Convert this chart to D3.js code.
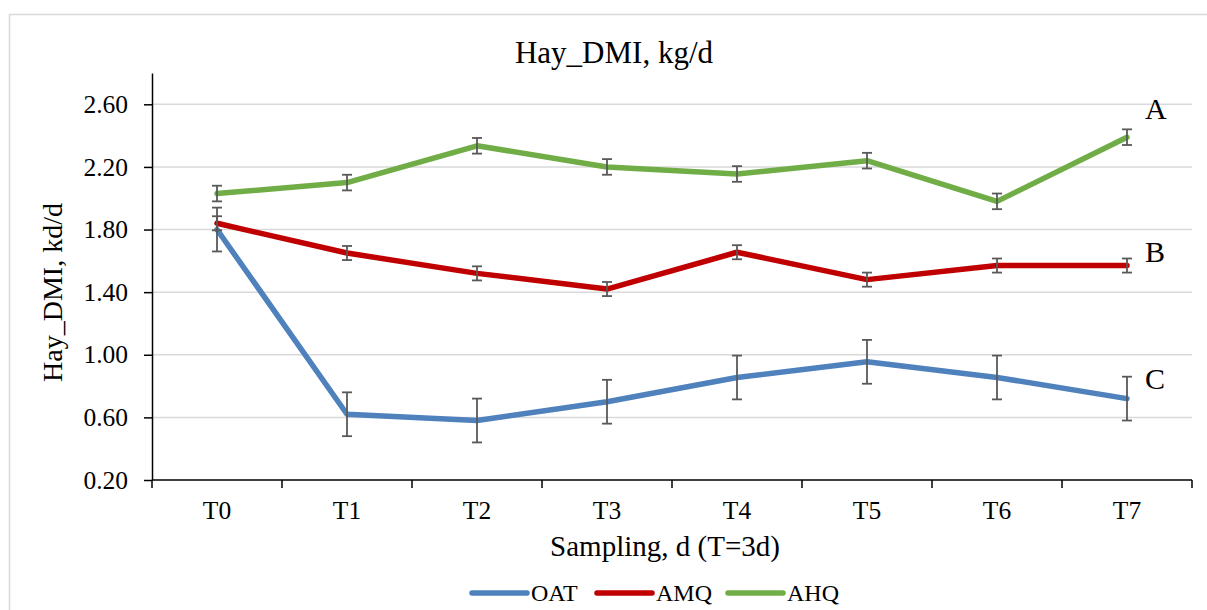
<!DOCTYPE html>
<html>
<head>
<meta charset="utf-8">
<script src="https://cdn.jsdelivr.net/npm/d3@7"></script>
<style>
  body { margin: 0; background: #fff; }
  svg { font-family: "Liberation Serif", "Times New Roman", serif; }
</style>
</head>
<body>
<div id="chart"></div>
<script>
// data
const categories = ["T0", "T1", "T2", "T3", "T4", "T5", "T6", "T7"];
const oat = [1.80, 0.62, 0.58, 0.70, 0.855, 0.955, 0.855, 0.72];
const oatErr = [0.14, 0.14, 0.14, 0.14, 0.14, 0.14, 0.14, 0.14];
const amq = [1.84, 1.65, 1.52, 1.42, 1.655, 1.48, 1.57, 1.57];
const amqErr = [0.045, 0.045, 0.045, 0.045, 0.045, 0.045, 0.045, 0.045];
const ahq = [2.03, 2.10, 2.335, 2.20, 2.155, 2.24, 1.98, 2.39];
const ahqErr = [0.05, 0.05, 0.05, 0.05, 0.05, 0.05, 0.05, 0.05];
const yTicks = [0.20, 0.60, 1.00, 1.40, 1.80, 2.20, 2.60];
const groupLetters = [["A", 2.575], ["B", 1.66], ["C", 0.85]];

const series = [
  { name: "OAT", values: oat, err: oatErr, color: "#4f81bd" },
  { name: "AMQ", values: amq, err: amqErr, color: "#c00000" },
  { name: "AHQ", values: ahq, err: ahqErr, color: "#70ad47" }
];

const width = 1207, height = 610;
const margin = { top: 73, right: 15, bottom: 130, left: 152 };

const svg = d3.select("#chart").append("svg")
    .attr("width", width)
    .attr("height", height);

// outer chart border (right/bottom run off the picture)
svg.append("rect")
    .attr("x", 9.5).attr("y", 14.5)
    .attr("width", 1210).attr("height", 620)
    .attr("fill", "none")
    .attr("stroke", "#d9d9d9")
    .attr("stroke-width", 1.5);

const x = d3.scaleBand()
    .domain(categories)
    .range([margin.left, width - margin.right]);

const y = d3.scaleLinear()
    .domain([0.2, 2.8])
    .range([height - margin.bottom, margin.top]);

// gridlines
svg.append("g")
  .selectAll("line")
  .data(yTicks.slice(1))
  .join("line")
    .attr("x1", margin.left)
    .attr("x2", width - margin.right)
    .attr("y1", d => y(d))
    .attr("y2", d => y(d))
    .attr("stroke", "#d9d9d9")
    .attr("stroke-width", 1.5);

// y axis
const yAxis = svg.append("g")
    .attr("transform", `translate(${margin.left},0)`)
    .call(d3.axisLeft(y).tickValues(yTicks).tickFormat(d3.format(".2f")).tickSize(8).tickPadding(16).tickSizeOuter(0));
yAxis.select(".domain").attr("stroke", "#000").attr("stroke-width", 1.5);
yAxis.selectAll(".tick line").attr("stroke", "#000").attr("stroke-width", 1.5);
yAxis.selectAll("text")
    .attr("font-size", 25.5)
    .attr("fill", "#000")
    .attr("font-family", "Liberation Serif, serif");

// x axis - ticks sit between categories
const xAxis = svg.append("g")
    .attr("transform", `translate(0,${height - margin.bottom})`);
xAxis.append("line")
    .attr("x1", margin.left).attr("x2", width - margin.right)
    .attr("stroke", "#000").attr("stroke-width", 1.5);
xAxis.selectAll(".xtick")
  .data(d3.range(categories.length + 1))
  .join("line")
    .attr("class", "xtick")
    .attr("x1", i => margin.left + i * x.step())
    .attr("x2", i => margin.left + i * x.step())
    .attr("y1", 0).attr("y2", 8)
    .attr("stroke", "#000").attr("stroke-width", 1.5);
xAxis.selectAll(".xlabel")
  .data(categories)
  .join("text")
    .attr("class", "xlabel")
    .attr("x", d => x(d) + x.bandwidth() / 2)
    .attr("y", 39)
    .attr("text-anchor", "middle")
    .attr("font-size", 25.5)
    .text(d => d);

const cx = d => x(d) + x.bandwidth() / 2;

const line = d3.line()
    .x((d, i) => cx(categories[i]))
    .y(d => y(d));

// series: line then its error bars
series.forEach(s => {
  const g = svg.append("g");
  g.append("path")
      .datum(s.values)
      .attr("d", line)
      .attr("fill", "none")
      .attr("stroke", s.color)
      .attr("stroke-width", 5.5)
      .attr("stroke-linejoin", "round")
      .attr("stroke-linecap", "round");

  const eb = g.append("g")
      .attr("stroke", "#595959")
      .attr("stroke-width", 1.8)
    .selectAll("g")
    .data(s.values.map((v, i) => ({ v, e: s.err[i], c: categories[i] })))
    .join("g");
  eb.append("line")
      .attr("x1", d => cx(d.c)).attr("x2", d => cx(d.c))
      .attr("y1", d => y(d.v - d.e)).attr("y2", d => y(d.v + d.e));
  eb.append("line")
      .attr("x1", d => cx(d.c) - 5).attr("x2", d => cx(d.c) + 5)
      .attr("y1", d => y(d.v + d.e)).attr("y2", d => y(d.v + d.e));
  eb.append("line")
      .attr("x1", d => cx(d.c) - 5).attr("x2", d => cx(d.c) + 5)
      .attr("y1", d => y(d.v - d.e)).attr("y2", d => y(d.v - d.e));
});

// group letters
svg.append("g")
  .selectAll("text")
  .data(groupLetters)
  .join("text")
    .attr("x", 1145)
    .attr("y", d => y(d[1]))
    .attr("dy", "0.35em")
    .attr("font-size", 30)
    .text(d => d[0]);

// title
svg.append("text")
    .attr("x", 614).attr("y", 63)
    .attr("text-anchor", "middle")
    .attr("font-size", 31)
    .text("Hay_DMI, kg/d");

// axis titles
svg.append("text")
    .attr("transform", `translate(62,${(margin.top + height - margin.bottom) / 2 + 16}) rotate(-90)`)
    .attr("text-anchor", "middle")
    .attr("font-size", 28)
    .text("Hay_DMI, kd/d");

svg.append("text")
    .attr("x", 665).attr("y", 556)
    .attr("text-anchor", "middle")
    .attr("font-size", 29)
    .text("Sampling, d (T=3d)");

// legend
const legendX = [472, 597, 728];
const legend = svg.append("g")
  .selectAll("g")
  .data(series)
  .join("g")
    .attr("transform", (d, i) => `translate(${legendX[i]},593)`);
legend.append("line")
    .attr("x1", 0).attr("x2", 55)
    .attr("stroke", d => d.color)
    .attr("stroke-width", 5.5)
    .attr("stroke-linecap", "round");
legend.append("text")
    .attr("x", 59)
    .attr("dy", "0.35em")
    .attr("font-size", 24)
    .text(d => d.name);
</script>
</body>
</html>
